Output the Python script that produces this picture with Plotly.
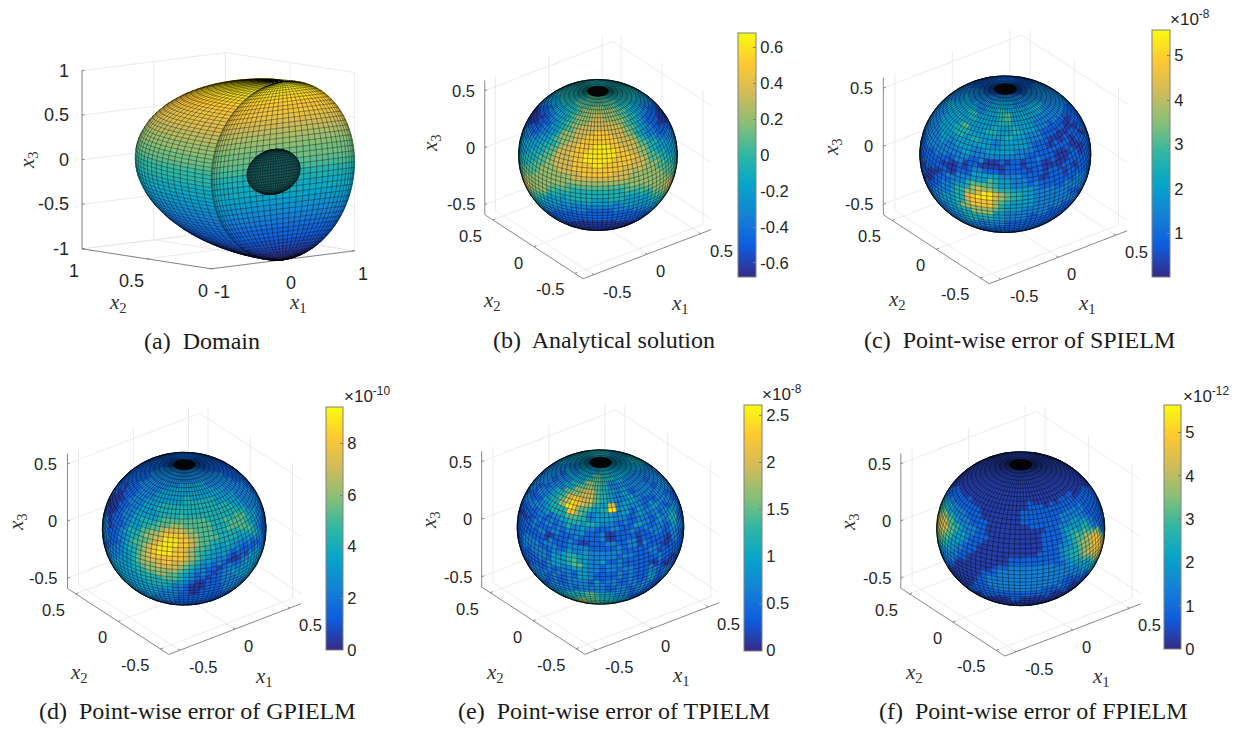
import numpy as np
import plotly.graph_objects as go
from plotly.colors import sample_colorscale

W, H = 1242, 731
PARULA = [[0, '#352a87'], [.125, '#0f5cdd'], [.25, '#1481d6'], [.375, '#06a4ca'], [.5, '#2eb7a4'],
          [.625, '#87bf77'], [.75, '#d1bb59'], [.875, '#fec832'], [1, '#f9fb0e']]

ANALYTICAL = ["333333344444444444444433333333", "222333344444444444444433332222", "222233344444444444444433322222",
 "111223334444455544444433221111", "111122334445555555444332211111", "110011233445556655544332110011",
 "100011233445666666554332110001", "100001233456667766655432110001", "110011234556677777665432110011",
 "111112334566777777766543211111", "221122345667778887776543221122", "222233456677788888777654332222",
 "333334456777888888877765443333", "333344567778889998887766543333", "334445677788899999888776554433",
 "444455677788999999988877655444", "444556677788999999888777665544", "555566677788889988887776665555",
 "555666667777888888777766666555", "666666666677777777777666666666", "776666666666666666666666666677",
 "776665555555555555555555566677", "665554444444444444444444455566", "554443333444444444443333344455",
 "443333332333333333233333333344", "332222222222222222222222222233", "222211111111111111111111112222",
 "221111111111111111111111111122", "110000000000000000000000000011", "000000000000000000000000000000"]
SPIELM = ["111111111111111111111111", "111122211111111122221111", "111222222111111222222111", "112222322222222222222111",
 "112233332233322332221111", "122233342334333332221111", "122333343334533322210111", "122334533334433322110011",
 "122334433443343321100101", "122323343333433221001011", "122223333323333211011001", "112222322333322211100101",
 "111112212222222121100111", "011001010001010110001011", "100101122110111010110111", "001122233332221110111122",
 "111223455543322121112221", "112234667654433322222111", "112334789976543322222211", "111234688865433322221111",
 "111223466654332222111111", "111122344433222111111111", "111111222222111111111111", "111111111111111111111111"]
GPIELM = ["111111111111111111111111111111", "111111111111111111111111111111", "111111111111111111111111111111",
 "111111111122222222111111111111", "111111111222222222222211111111", "111111112222222222222222111111",
 "111101122222223333322222221111", "111011122223333333333322222111", "110011222233333333333333222211",
 "100012223333333444444333322221", "100112233334444444444444332221", "100122333344444444444444443321",
 "101122333344445444444444554321", "201123344445555555544455554321", "201123344555666555554445555421",
 "211234455667777665554444444431", "211234456778888766555444433221", "111234556789998876554443322112",
 "112234567899998876544333211122", "122234567899988765443332110233", "122334567888888765433221012333",
 "123334566778877654332210123333", "123334456677776543221012233332", "123333445566665432210122333322",
 "122333344445554321101122222222", "122233334444433210011122222221", "112222333333322100011122222211",
 "111222223322221100111111111111", "111111222222211111111111111111", "111111111111111111111111111111"]
TPIELM = ["222233344444433332222222", "112222333333333344332211", "111222222333333333222111", "111122132333433322221111",
 "111221223345443222122111", "012112234565422222212211", "111223456675432312222111", "121134578775432232112211",
 "112234698764372322132121", "011234486543492313221231", "101212355423332212213241", "112121244343221213212132",
 "111212122321122121122121", "121101112111201110111021", "122121121011121120211011", "112212132211112111120111",
 "011213344322221221112101", "101123345322312111101011", "112121223322121221121211", "011212121321112121131211",
 "111112122213121121211111", "111132221222212212111111", "111233344454332211111111", "111234445655443322111111"]
FPIELM = ["000000000000000000000000000000", "000000000000000000000000000000", "000000000000000000000000000000",
 "000000000000000000000000000000", "000000000000000000000000000000", "000000000000000000000000000000",
 "110000000000000000000000000011", "111100000000000000000000001111", "221110000000000000000001011111",
 "332111000000000000000011111111", "443211100000000011101111121111", "553221110000000111111112221111",
 "764321110000000111111122222111", "775322111000000111111122333211", "775432111000000001111123334321",
 "665432211000000000011123445562", "554332111000000000011123456786", "443322110000000000011123456787",
 "333221100000000000011123456788", "222211000000000000011123456777", "222110000000000000111123445565",
 "111000000000011111111112333432", "000000000001122222222222223322", "000000001112222222222222221100",
 "000000011222222222222221110000", "000000011222222222222211000000", "000000111122222222211110000000",
 "000000001111111111110000000000", "000000000000011000000000000000", "000000000000000000000000000000"]

CAPTIONS = ["(a)  Domain", "(b)  Analytical solution", "(c)  Point-wise error of SPIELM",
            "(d)  Point-wise error of GPIELM", "(e)  Point-wise error of TPIELM", "(f)  Point-wise error of FPIELM"]
CAPTION_XY = [(201.7, 341), (604, 340), (1019, 340), (197.5, 711), (613.8, 711), (1033.5, 711)]
SPHERE_TICKS = [-0.5, 0, 0.5]

fig = go.Figure()
ann = []
TICKFONT = 'Liberation Sans'


class View:
    def __init__(s, center, scale, mid, az, el):
        s.c, s.sc, s.mid = center, scale, mid
        s.a, s.e = np.radians(az), np.radians(el)

    def __call__(s, x, y, z):
        x, y, z = [np.asarray(v, float) for v in (x, y, z)]
        dx, dy, dz = (x - s.mid[0]) * s.sc[0], (y - s.mid[1]) * s.sc[1], (z - s.mid[2]) * s.sc[2]
        X = s.c[0] + dx * np.cos(s.a) + dy * np.sin(s.a)
        Yu = -dx * np.sin(s.a) * np.sin(s.e) + dy * np.cos(s.a) * np.sin(s.e) + dz * np.cos(s.e)
        return X, s.c[1] - Yu


def segs(v, pts, color, width):
    xs, ys = [], []
    for a, b in pts:
        X, Y = v([a[0], b[0]], [a[1], b[1]], [a[2], b[2]])
        xs += [X[0], X[1], None]
        ys += [Y[0], Y[1], None]
    fig.add_trace(go.Scatter(x=xs, y=ys, mode='lines', line=dict(color=color, width=width), hoverinfo='skip', showlegend=False))


def tick_ann(x, y, text, anchor, size):
    ann.append(dict(x=x, y=y, xref='x', yref='y', showarrow=False, text=text, xanchor=anchor, yanchor='middle',
                    font=dict(family=TICKFONT, size=size, color='#262626')))


def fmt(t):
    return f'{t:g}'


def box(v, xr, yr, zr, xt, yt, zt, size, ox, oy, oz):
    grid = []
    for t in xt:
        grid += [((t, yr[0], zr[0]), (t, yr[1], zr[0])), ((t, yr[1], zr[0]), (t, yr[1], zr[1]))]
    for t in yt:
        grid += [((xr[0], t, zr[0]), (xr[1], t, zr[0])), ((xr[1], t, zr[0]), (xr[1], t, zr[1]))]
    for t in zt:
        grid += [((xr[0], yr[1], t), (xr[1], yr[1], t)), ((xr[1], yr[1], t), (xr[1], yr[0], t))]
    segs(v, grid, '#e6e6e6', 0.8)
    dx, dy = 0.018 * (xr[1] - xr[0]), 0.018 * (yr[1] - yr[0])
    ax = [((xr[0], yr[0], zr[0]), (xr[1], yr[0], zr[0])), ((xr[0], yr[0], zr[0]), (xr[0], yr[1], zr[0])),
          ((xr[0], yr[1], zr[0]), (xr[0], yr[1], zr[1]))]
    ax += [((t, yr[0], zr[0]), (t, yr[0] + dy, zr[0])) for t in xt]
    ax += [((xr[0], t, zr[0]), (xr[0] + dx, t, zr[0])) for t in yt]
    ax += [((xr[0], yr[1], t), (xr[0] + dx, yr[1], t)) for t in zt]
    segs(v, ax, '#7a7a7a', 0.9)
    for t in xt:
        X, Y = v(t, yr[0], zr[0])
        tick_ann(float(X) + ox[0], float(Y) + ox[1], fmt(t), 'left', size)
    for t in yt:
        X, Y = v(xr[0], t, zr[0])
        tick_ann(float(X) + oy[0], float(Y) + oy[1], fmt(t), 'right', size)
    for t in zt:
        X, Y = v(xr[0], yr[1], t)
        tick_ann(float(X) + oz[0], float(Y) + oz[1], fmt(t), 'right', size)


def polys(X, Y):
    """visible quads of a screen-space grid"""
    a = (X[:-1, :-1] * Y[:-1, 1:] - X[:-1, 1:] * Y[:-1, :-1] + X[:-1, 1:] * Y[1:, 1:] - X[1:, 1:] * Y[:-1, 1:]
         + X[1:, 1:] * Y[1:, :-1] - X[1:, :-1] * Y[1:, 1:] + X[1:, :-1] * Y[:-1, :-1] - X[:-1, :-1] * Y[1:, :-1])
    return a > 0


def path(X, Y, mask):
    I, J = np.nonzero(mask)
    n = len(I)
    px = np.full(n * 6, np.nan)
    py = np.full(n * 6, np.nan)
    for k, (di, dj) in enumerate([(0, 0), (0, 1), (1, 1), (1, 0), (0, 0)]):
        px[k::6] = X[I + di, J + dj]
        py[k::6] = Y[I + di, J + dj]
    return px, py


def fill(px, py, color):
    fig.add_trace(go.Scatter(x=px, y=py, mode='lines', fill='toself', fillcolor=color, line=dict(width=0.4, color=color),
                             hoverinfo='skip', showlegend=False))


def edges(px, py, color='rgba(5,5,5,0.42)', width=0.5):
    fig.add_trace(go.Scatter(x=px, y=py, mode='lines', line=dict(color=color, width=width), hoverinfo='skip', showlegend=False))


def axis_labels(labels):
    names = ['<i>x</i><sub>3</sub>', '<i>x</i><sub>2</sub>', '<i>x</i><sub>1</sub>']
    for (px, py), t, ang in zip(labels, names, [-90, 0, 0]):
        ann.append(dict(x=px, y=py, xref='x', yref='y', showarrow=False, text=t, textangle=ang,
                        xanchor='center', yanchor='middle', font=dict(family='Liberation Serif', size=21, color='#333333')))


def sphere_panel(table, center, edge, ratio, cmin, cmax, ticks, bar, labels, exp=None):
    v = View(center, (edge / 1.2, edge / 1.2, edge * ratio / 1.18), (0, 0, 0), -37.5, 30)
    box(v, (-.6, .6), (-.6, .6), (-.59, .59), SPHERE_TICKS, SPHERE_TICKS, SPHERE_TICKS, 16.5, (7, 17), (-9, 16), (-8, 0))
    lat = np.linspace(np.pi / 2, -np.pi / 2, 51)
    lon = np.linspace(-np.pi, np.pi, 91)
    LO, LA = np.meshgrid(lon, lat)
    X, Y = v(0.59 * np.cos(LA) * np.cos(LO), 0.59 * np.cos(LA) * np.sin(LO), 0.565 * np.sin(LA))
    vis = polys(X, Y)
    T = np.array([[int(c) for c in r] for r in table])
    nr, nc = T.shape
    xc, yc = (X[:-1, :-1] + X[1:, 1:]) / 2, (Y[:-1, :-1] + Y[1:, 1:]) / 2
    x0, x1, y0, y1 = X.min(), X.max(), Y.min(), Y.max()
    c = np.clip(((xc - x0) / (x1 - x0) * nc).astype(int), 0, nc - 1)
    r = np.clip(((yc - y0) / (y1 - y0) * nr).astype(int), 0, nr - 1)
    L = T[r, c]
    for lev in range(10):
        m = vis & (L == lev)
        if m.any():
            px, py = path(X, Y, m)
            fill(px, py, sample_colorscale(PARULA, (lev + 0.5) / 10)[0])
    px, py = path(X, Y, vis)
    edges(px, py)
    cap = np.zeros_like(vis)
    cap[:2] = vis[:2]
    px, py = path(X, Y, cap)
    fill(px, py, '#050505')
    th = np.linspace(0, 2 * np.pi, 181)
    rim_x = (x0 + x1) / 2 + (x1 - x0) / 2 * np.cos(th)
    rim_y = (y0 + y1) / 2 + (y1 - y0) / 2 * np.sin(th)
    edges(rim_x, rim_y, 'rgba(0,0,0,0.75)', 1)
    bx0, bx1, by0, by1 = bar
    fig.add_trace(go.Scatter(x=[-50, -50], y=[-50, -50], mode='markers', hoverinfo='skip', showlegend=False,
                             marker=dict(color=[cmin, cmax], cmin=cmin, cmax=cmax, colorscale=PARULA, showscale=True,
                                         colorbar=dict(x=bx0 / W, xanchor='left', xpad=0, ypad=0, y=1 - by1 / H, yanchor='bottom',
                                                       len=(by1 - by0) / H, lenmode='fraction', thickness=bx1 - bx0, thicknessmode='pixels',
                                                       tickmode='array', tickvals=ticks, ticktext=[fmt(t) for t in ticks], ticks='inside', ticklen=3,
                                                       tickcolor='#808080', outlinecolor='#808080', outlinewidth=1,
                                                       tickfont=dict(family=TICKFONT, size=16.5, color='#262626')))))
    axis_labels(labels)
    if exp:
        ann.append(dict(x=exp[0], y=exp[1], xref='x', yref='y', showarrow=False, xanchor='center', yanchor='middle',
                        text=f'×10<sup>{exp[2]}</sup>', font=dict(family=TICKFONT, size=17, color='#262626')))


# Panel (a): half of the unit ball with a flat face and an inner hole, coloured by x3
va = View((218.3, 160.7), (193 / 2, 193, 180 / 2), (0, .5, 0), -42, 8)
box(va, (-1, 1), (0, 1), (-1, 1), [-1, 0, 1], [0, .5, 1], [-1, -.5, 0, .5, 1], 18, (1, 23), (-1, 22), (-11, 0))


def z_band(X, Y, Z3, vis):
    levels = np.round((Z3[:-1, 0] + Z3[1:, 0]) / 2 * 16).astype(int)
    for i in range(vis.shape[0]):
        m = np.zeros_like(vis)
        m[i] = vis[i]
        if m.any():
            px, py = path(X, Y, m)
            fill(px, py, sample_colorscale(PARULA, (levels[i] / 16 + 1) / 2)[0])
    px, py = path(X, Y, vis)
    edges(px, py)


lat = np.linspace(np.pi / 2, -np.pi / 2, 71)
t = np.linspace(0, np.pi, 49)
TT, LL = np.meshgrid(t, lat)
Z3 = np.sin(LL)
X, Y = va(np.cos(LL) * np.cos(TT), np.cos(LL) * np.sin(TT), Z3)
z_band(X, Y, Z3, polys(X, Y))
lat = np.linspace(np.pi / 2, -np.pi / 2, 51)
w = np.linspace(-np.pi / 2, np.pi / 2, 33)
WW, LL = np.meshgrid(w, lat)
Z3 = np.sin(LL)
X, Y = va(np.cos(LL) * np.sin(WW), 0 * LL, Z3)
z_band(X, Y, Z3, polys(X, Y))
lat = np.linspace(np.pi / 2, -np.pi / 2, 25)
t = np.linspace(-np.pi, np.pi, 61)
TT, LL = np.meshgrid(t, lat)
X, Y = va(-0.13 + 0.37 * np.cos(LL) * np.cos(TT), 0.02 * np.cos(LL) * np.sin(TT), 0.25 * np.sin(LL))
vis = polys(X, Y)
px, py = path(X, Y, vis)
fill(px, py, '#1b5a5c')
edges(px, py, 'rgba(5,20,20,0.45)')
axis_labels([(28, 160), (118, 303), (298, 303)])

sphere_panel(ANALYTICAL, (598, 155), 161.5, 0.96, -0.68, 0.68, [-.6, -.4, -.2, 0, .2, .4, .6],
             (737.7, 756, 33.3, 277.3), [(431, 143), (492, 301), (680, 304)])
sphere_panel(SPIELM, (1005.3, 154.2), 174, 0.91, 0.01, 5.57, [1, 2, 3, 4, 5],
             (1151.7, 1170, 30.7, 277.3), [(832, 147), (897, 300), (1087, 304)], (1190, 18, '-8'))
sphere_panel(GPIELM, (184.2, 528.7), 166.5, 0.935, 0, 9.41, [0, 2, 4, 6, 8],
             (325.7, 342.7, 406.7, 650), [(17, 522), (79, 673), (264, 677)], (366.7, 395, '-10'))
sphere_panel(TPIELM, (600.5, 527), 169.5, 0.925, 0, 2.61, [0, .5, 1, 1.5, 2, 2.5],
             (744, 761.7, 404.3, 650.7), [(430, 520), (495, 673), (681, 676)], (781.7, 393, '-8'))
sphere_panel(FPIELM, (1020.7, 528.7), 171, 0.91, 0, 5.63, [0, 1, 2, 3, 4, 5],
             (1164.3, 1181.7, 405.3, 649.3), [(849, 522), (914, 673), (1101, 677)], (1206, 395, '-12'))

for (cx, cy), txt in zip(CAPTION_XY, CAPTIONS):
    ann.append(dict(x=cx, y=cy, xref='x', yref='y', showarrow=False, text=txt, xanchor='center', yanchor='middle',
                    font=dict(family='Liberation Serif', size=24, color='#1a1a1a')))

fig.update_layout(width=W, height=H, margin=dict(l=0, r=0, t=0, b=0), paper_bgcolor='white', plot_bgcolor='white',
                  showlegend=False, annotations=ann,
                  xaxis=dict(range=[0, W], visible=False, fixedrange=True),
                  yaxis=dict(range=[H, 0], visible=False, fixedrange=True))
fig.write_html("out.html", post_script="document.body.style.margin='0';", config={'displayModeBar': False})
